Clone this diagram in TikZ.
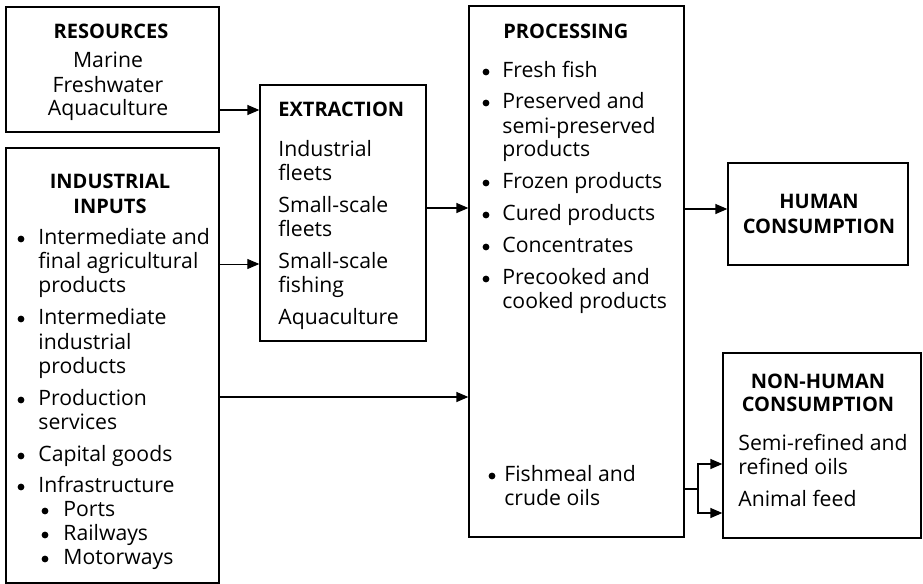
\documentclass[tikz,border=0pt]{standalone}
\usepackage{fontspec}
\setmainfont{Open Sans}
\usetikzlibrary{arrows.meta,fit}
\tikzset{
    box/.style={draw, line width=.65pt, inner sep=0pt},
    txt/.style={anchor=mid west, inner sep=0pt, font=\fontsize{10.6}{12}\selectfont},
    ctr/.style={anchor=mid, inner sep=0pt, font=\fontsize{10.6}{12}\selectfont},
    ttl/.style={inner sep=0pt, font=\fontsize{10}{12}\selectfont\bfseries},
    dot/.style={circle, fill, inner sep=0pt, minimum size=3.4pt},
    flow/.style={line width=.65pt, -{Triangle[length=6pt,width=5pt]}},
}
\begin{document}
\begin{tikzpicture}[x=.5pt,y=-.5pt]
\useasboundingbox (0,0) rectangle (923,584);
%boxes
\node[box, fit={(6,7) (219,132)}] (res) {};
\node[box, fit={(6,148) (219,583)}] (inp) {};
\node[box, fit={(260,85) (426,341)}] (ext) {};
\node[box, fit={(469,6) (684,537)}] (proc) {};
\node[box, fit={(728,163) (908,265)}] (hum) {};
\node[box, fit={(723,353) (921,538)}] (nonhum) {};

%resources
\node[ttl, anchor=mid] (res-t) at (111,33){RESOURCES};
\foreach \y/\t [count=\i] in {62/Marine, 87/Freshwater, 110/Aquaculture}{
    \node[ctr] (res-\i) at (108,\y){\t};
}

%industrial inputs
\node[ttl, anchor=mid] (inp-t1) at (110,183){INDUSTRIAL};
\node[ttl, anchor=mid] (inp-t2) at (110,208){INPUTS};
\foreach \y/\t [count=\i] in {239/Intermediate and, 263/final agricultural, 287/products,
    319/Intermediate, 344/industrial, 368/products, 400/Production, 424/services,
    456/Capital goods, 487/Infrastructure}{
    \node[txt] (inp-\i) at (38,\y){\t};
}
\foreach \y in {239,319,400,456,487}{
    \node[dot] (inp-b\y) at (21,\y){};
}
\foreach \y/\t in {511/Ports, 535/Railways, 559/Motorways}{
    \node[dot] (inp-s\y) at (45,\y){};
    \node[txt] (inp-\t) at (63,\y){\t};
}

%extraction
\node[ttl, anchor=mid west] (ext-t) at (278,111){EXTRACTION};
\foreach \y/\t [count=\i] in {151/Industrial, 175/fleets, 207/Small-scale, 231/fleets,
    263/Small-scale, 287/fishing, 319/Aquaculture}{
    \node[txt] (ext-\i) at (278,\y){\t};
}

%processing
\node[ttl, anchor=mid west] (proc-t) at (503,33){PROCESSING};
\foreach \y/\t [count=\i] in {72/Fresh fish, 103/Preserved and, 128/semi-preserved,
    151/products, 183/Frozen products, 215/Cured products, 247/Concentrates,
    279/Precooked and, 303/cooked products}{
    \node[txt] (proc-\i) at (502,\y){\t};
}
\foreach \y in {72,103,183,215,247,279}{
    \node[dot] (proc-b\y) at (486,\y){};
}
\node[dot] (proc-b476) at (492,476){};
\node[txt] (proc-fm1) at (504,476){Fishmeal and};
\node[txt] (proc-fm2) at (504,500){crude oils};

%consumption
\node[ttl, anchor=mid] (hum-t1) at (819,203){HUMAN};
\node[ttl, anchor=mid] (hum-t2) at (819,228){CONSUMPTION};
\node[ttl, anchor=mid] (nonhum-t1) at (818,383){NON-HUMAN};
\node[ttl, anchor=mid] (nonhum-t2) at (818,406){CONSUMPTION};
\foreach \y/\t [count=\i] in {445/Semi-refined and, 469/refined oils, 501/Animal feed}{
    \node[txt] (nonhum-\i) at (738,\y){\t};
}

%arrows
\draw[flow] (res.east |- 0,110) -- (ext.west |- 0,110);
\draw[flow, line width=.45pt] (inp.east |- 0,264) -- (ext.west |- 0,264);
\draw[flow] (ext.east |- 0,208) -- (proc.west |- 0,208);
\draw[flow] (proc.east |- 0,209) -- (hum.west |- 0,209);
\draw[flow] (inp.east |- 0,397) -- (proc.west |- 0,397);
\coordinate (split) at (698,489);
\draw[line width=.65pt] (proc.east |- split) -- (split);
\draw[flow] (split) |- (nonhum.west |- 0,464);
\draw[flow] (split) |- (nonhum.west |- 0,513);
\end{tikzpicture}
\end{document}
